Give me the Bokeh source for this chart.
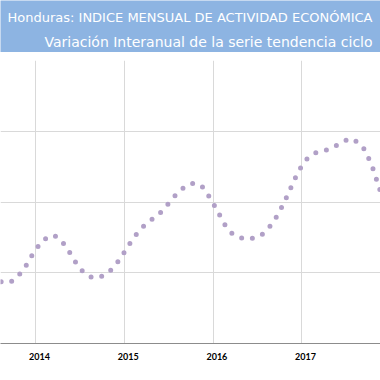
import pandas as pd
from bokeh.plotting import figure
from bokeh.layouts import column
from bokeh.models import (Range1d, FixedTicker, Label, GlobalInlineStyleSheet)
from bokeh.embed import file_html
from bokeh.resources import INLINE

# ---- data ----
title_text = "Honduras: INDICE MENSUAL DE ACTIVIDAD ECONÓMICA"
subtitle_text = "Variación Interanual de la serie tendencia ciclo"
start_month = "2013-07"
values = [
    2.88, 2.87, 2.86, 2.94, 3.07, 3.25,
    3.40, 3.50, 3.53, 3.45, 3.30, 3.13, 3.00, 2.94, 2.93, 2.98, 3.07, 3.21,
    3.38, 3.53, 3.65, 3.74, 3.81, 3.92, 4.05, 4.16, 4.24, 4.27, 4.22, 4.07,
    3.89, 3.69, 3.56, 3.50, 3.47, 3.49, 3.53, 3.63, 3.78, 3.97, 4.20, 4.43,
    4.59, 4.68, 4.72, 4.74, 4.79, 4.85, 4.90, 4.85, 4.74, 4.51, 4.19, 3.88,
]
year_labels = ["2014", "2015", "2016", "2017"]
y_grid_values = [2, 3, 4, 5, 6]

months = pd.period_range(start_month, periods=len(values), freq="M")
base_year = int(year_labels[0])
x_idx = [(m.year - base_year) * 12 + (m.month - 1) for m in months]
year_pos = [(int(y) - base_year) * 12 for y in year_labels]
year_bounds = [p - 0.5 for p in year_pos]

BLUE = "#8DB4E2"
W = 380

# ---- title bar ----
t = figure(width=W, height=52, x_range=Range1d(0, W), y_range=Range1d(52, 0),
           x_axis_location=None, y_axis_location=None, toolbar_location=None,
           output_backend="svg", min_border=0,
           background_fill_color=BLUE, border_fill_color=BLUE, outline_line_color=None)
t.grid.visible = False
t.add_layout(Label(x=7, y=17, text=title_text, text_color="white",
                   text_font="DejaVu Sans", text_font_size="13px",
                   text_align="left", text_baseline="alphabetic"))
t.add_layout(Label(x=208, y=41, text=subtitle_text, text_color="white",
                   text_font="DejaVu Sans", text_font_size="14px",
                   text_align="center", text_baseline="alphabetic"))

# ---- chart ----
p = figure(width=W, height=328, x_range=Range1d(-5.28, 46.14), y_range=Range1d(2, 6),
           toolbar_location=None, output_backend="svg",
           min_border_left=0, min_border_right=0, min_border_top=8, min_border_bottom=37,
           background_fill_color="white", border_fill_color="white", outline_line_color=None)
p.yaxis.visible = False
p.ygrid.ticker = FixedTicker(ticks=y_grid_values)
p.xgrid.ticker = FixedTicker(ticks=year_bounds)
p.grid.grid_line_color = "#D9D9D9"
p.grid.grid_line_width = 1

xa = p.xaxis[0]
xa.ticker = FixedTicker(ticks=year_pos)
xa.major_label_overrides = {pos: lab for pos, lab in zip(year_pos, year_labels)}
xa.axis_line_color = "#8C8C8C"
xa.axis_line_width = 1.2
xa.major_tick_line_color = None
xa.minor_tick_line_color = None
xa.major_tick_out = 0
xa.major_tick_in = 0
xa.major_label_standoff = 9
xa.major_label_text_font = "Lato"
xa.major_label_text_font_style = "bold"
xa.major_label_text_font_size = "9px"
xa.major_label_text_color = "black"

p.line(x=x_idx, y=values, line_color="#B1A0C7", line_width=5,
       line_dash="0 11", line_dash_offset=5, line_cap="round")

layout = column(t, p, spacing=0)
layout.stylesheets = [GlobalInlineStyleSheet(css="body{margin:0;overflow:hidden}")]

open("out.html", "w").write(file_html(layout, INLINE))
